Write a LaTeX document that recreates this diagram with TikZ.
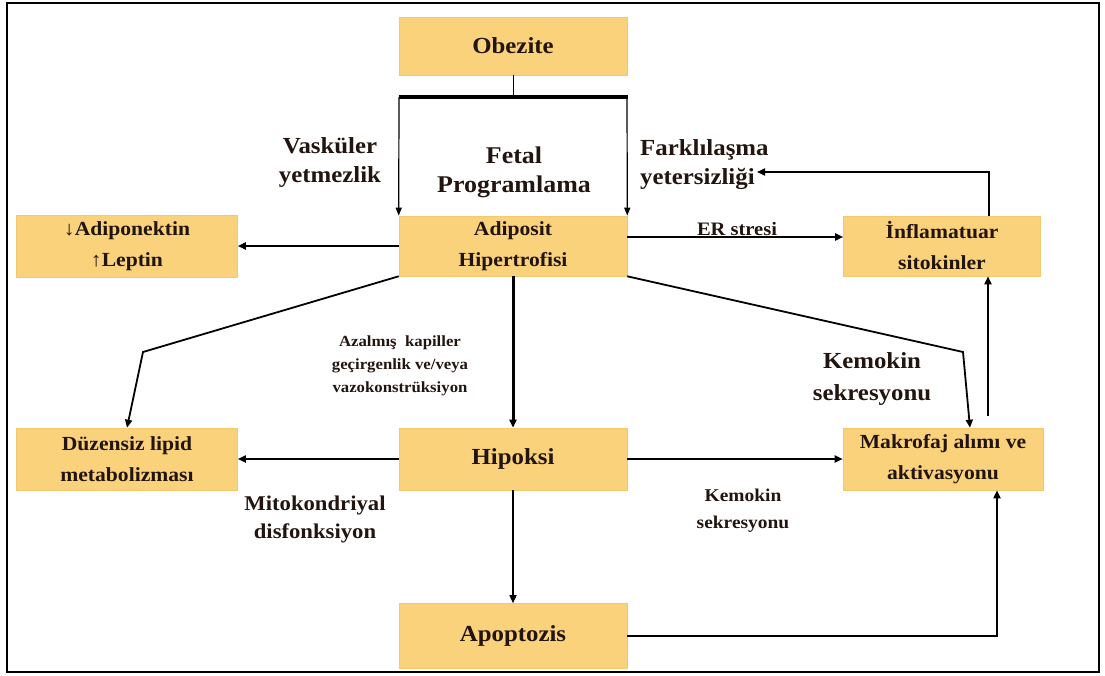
\documentclass[tikz,border=0pt]{standalone}
\usepackage{fontspec}
\setmainfont{Liberation Serif}[BoldFont={Liberation Serif Bold}, BoldFeatures={FakeStretch=1.08}, FakeStretch=1.08]
\usetikzlibrary{arrows.meta}
\definecolor{boxfill}{HTML}{FAD27C}
\definecolor{boxline}{HTML}{F3C86E}
\definecolor{txt}{HTML}{22140E}
\tikzset{
  box/.style={draw=boxline, fill=boxfill, line width=0.6pt, align=center, text=txt,
    font=\bfseries\fontsize{20}{31}\selectfont, inner sep=0pt},
  bigtxt/.style={font=\bfseries\fontsize{23}{29}\selectfont},
  lbl/.style={align=center, text=txt, inner sep=0pt},
  arr/.style={-{Triangle[length=8pt,width=7pt]}, line width=1.8pt},
}
\begin{document}
\begin{tikzpicture}[x=1pt,y=-1pt]
\useasboundingbox (0,0) rectangle (1105,675);
\draw[line width=1.5pt] (7,3) rectangle (1099,672);

% boxes
\node[box, bigtxt, minimum width=228pt, minimum height=58pt] (obez) at (513,46) {Obezite};
\node[box, minimum width=228pt, minimum height=60pt] (adip) at (513,246) {Adiposit\\Hipertrofisi};
\node[box, minimum width=221pt, minimum height=62pt] (adpk) at (127,246) {{\mdseries ↓}Adiponektin\\{\mdseries ↑}Leptin};
\node[box, minimum width=197pt, minimum height=60pt] (infl) at (942,246) {İnflamatuar\\sitokinler};
\node[box, minimum width=221pt, minimum height=62pt] (duz) at (127,459) {Düzensiz lipid\\metabolizması};
\node[box, bigtxt, minimum width=228pt, minimum height=62pt] (hip) at (513,459) {Hipoksi};
\node[box, minimum width=200pt, minimum height=62pt] (mak) at (943,459) {Makrofaj alımı ve\\aktivasyonu};
\node[box, bigtxt, minimum width=228pt, minimum height=65pt] (apo) at (513,636) {Apoptozis};

% labels
\node[lbl, font=\bfseries\fontsize{23}{29}\selectfont] (vask) at (330,162) {Vasküler\\yetmezlik};
\node[lbl, font=\bfseries\fontsize{24}{29}\selectfont] (fetal) at (514,172) {Fetal\\Programlama};
\node[lbl, align=left, anchor=west, font=\bfseries\fontsize{23}{29}\selectfont] (fark) at (640,165) {Farklılaşma\\yetersizliği};
\node[lbl, font=\bfseries\fontsize{19}{24}\selectfont] (er) at (737,229) {ER stresi};
\node[lbl, font=\bfseries\fontsize{15.5}{23}\selectfont] (azal) at (400,366) {Azalmış\ \ kapiller\\geçirgenlik ve/veya\\vazokonstrüksiyon};
\node[lbl, font=\bfseries\fontsize{21}{28}\selectfont] (mito) at (315,519) {Mitokondriyal\\disfonksiyon};
\node[lbl, font=\bfseries\fontsize{18}{27}\selectfont] (kem1) at (743,511) {Kemokin\\sekresyonu};
\node[lbl, font=\bfseries\fontsize{23}{32}\selectfont] (kem2) at (872,379) {Kemokin\\sekresyonu};

% connectors
\coordinate (bl) at (399,97);
\coordinate (br) at (627,97);
\draw[line width=1pt] (obez.south) -- (obez.south |- bl);
\draw[line width=3.5pt] ([xshift=-0.5pt]bl) -- ([xshift=0.5pt]br);
\draw[-{Triangle[length=8pt,width=6pt]}, line width=1.2pt] (bl) -- (adip.north west);
\draw[-{Triangle[length=8pt,width=6pt]}, line width=1.2pt] (br) -- (adip.north east);

\draw[arr] (adip.west) -- (adpk.east);
\draw[arr] ([yshift=9pt]adip.east) -- ([yshift=9pt]infl.west);
\coordinate (fk) at (757,172);
\draw[arr] ([xshift=47pt]infl.north) |- (fk);

\draw[arr, line width=3pt] (adip.south) -- (hip.north);
\coordinate (b1) at (143,352);
\draw[arr] (adip.south west) -- (b1) -- (duz.north);
\coordinate (b2) at (963,352);
\draw[arr] (adip.south east) -- (b2) -- ([xshift=27pt]mak.north);
\draw[arr] ([xshift=45pt,yshift=12pt]mak.north) -- ([xshift=45pt]mak.north |- infl.south);

\draw[arr] (hip.west) -- (duz.east);
\draw[arr] (hip.east) -- (mak.west);
\draw[arr, line width=1.4pt] (hip.south) -- (apo.north);
\draw[arr] (apo.east) -| ([xshift=54pt]mak.south);
\end{tikzpicture}
\end{document}
